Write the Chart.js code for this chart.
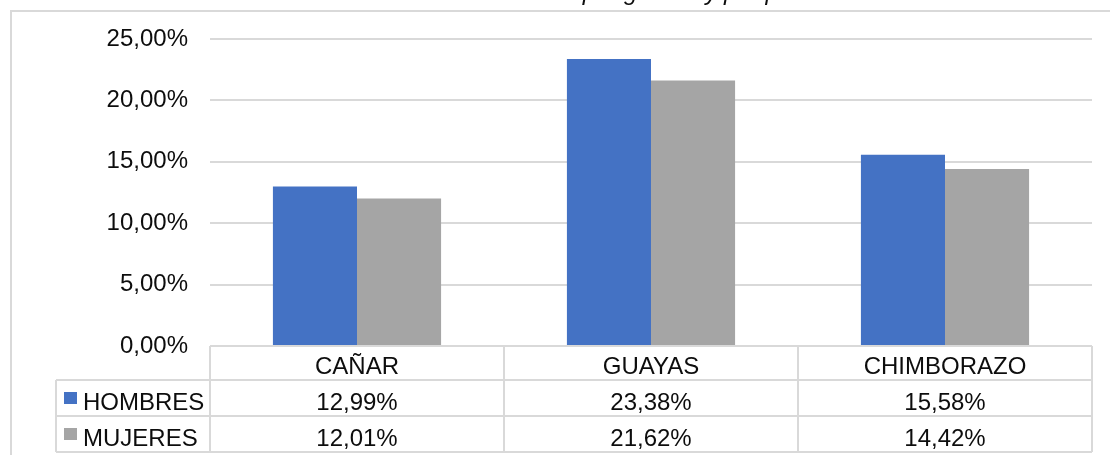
<!DOCTYPE html>
<html>
<head>
<meta charset="utf-8">
<script src="https://cdn.jsdelivr.net/npm/chart.js@4"></script>
<style>
  body { margin: 0; background: #fff; }
  #wrap { width: 1110px; height: 455px; position: relative; }
</style>
</head>
<body>
<div id="wrap"><canvas id="grafico"></canvas></div>
<script>
const titulo = 'Distribución de la muestra por género y por provincia';
const provincias = ['CAÑAR', 'GUAYAS', 'CHIMBORAZO'];
const series = ['HOMBRES', 'MUJERES'];
const hombres = [12.99, 23.38, 15.58];
const mujeres = [12.01, 21.62, 14.42];
const colores = ['#4472c4', '#a5a5a5'];
const yTicks = [0, 5, 10, 15, 20, 25];

const FUENTE = '24px "Liberation Sans", Arial, sans-serif';
const LINEA = '#d9d9d9';
const TEXTO = '#0d0d0d';

// formato con coma decimal
function pct(v) {
    return v.toFixed(2).replace('.', ',') + '%';
}

// marco exterior y título (solo asoma la parte inferior)
const marcoPlugin = {
    id: 'marco',
    beforeDraw(chart) {
        const ctx = chart.ctx;
        ctx.save();
        ctx.strokeStyle = LINEA;
        ctx.lineWidth = 2;
        ctx.beginPath();
        ctx.moveTo(11, chart.height + 5);
        ctx.lineTo(11, 11);
        ctx.lineTo(chart.width + 5, 11);
        ctx.stroke();

        ctx.fillStyle = TEXTO;
        ctx.font = 'italic 24px "Liberation Sans", Arial, sans-serif';
        ctx.textAlign = 'center';
        ctx.textBaseline = 'alphabetic';
        ctx.fillText(titulo, 580, 0);
        ctx.restore();
    }
};

// tabla de datos debajo del eje x
const tablaPlugin = {
    id: 'tablaDatos',
    afterDraw(chart) {
        const ctx = chart.ctx;
        const area = chart.chartArea;
        const x = chart.scales.x;
        const colW = (area.right - area.left) / provincias.length;
        const leyendaX = area.left - 154;
        const y0 = area.bottom;
        const y1 = y0 + 34;
        const y2 = y1 + 36;
        const y3 = y2 + 36;
        const filas = [hombres, mujeres];

        ctx.save();
        ctx.strokeStyle = LINEA;
        ctx.lineWidth = 2;
        ctx.beginPath();
        ctx.moveTo(area.left, y0); ctx.lineTo(area.right, y0);
        [y1, y2, y3].forEach(y => { ctx.moveTo(leyendaX, y); ctx.lineTo(area.right, y); });
        ctx.moveTo(leyendaX, y1); ctx.lineTo(leyendaX, y3);
        for (let i = 0; i <= provincias.length; i++) {
            const cx = area.left + i * colW;
            ctx.moveTo(cx, y0); ctx.lineTo(cx, y3);
        }
        ctx.stroke();

        ctx.fillStyle = TEXTO;
        ctx.font = FUENTE;
        ctx.textBaseline = 'alphabetic';
        ctx.textAlign = 'center';
        provincias.forEach((p, i) => {
            const cx = x.getPixelForValue(i);
            ctx.fillText(p, cx, y0 + 28);
            filas.forEach((vals, j) => {
                const top = j === 0 ? y1 : y2;
                ctx.fillText(pct(vals[i]), cx, top + 29.5);
            });
        });

        ctx.textAlign = 'left';
        series.forEach((s, j) => {
            const top = j === 0 ? y1 : y2;
            ctx.fillStyle = colores[j];
            ctx.fillRect(leyendaX + 8, top + 12, 13, 12);
            ctx.fillStyle = TEXTO;
            ctx.fillText(s, leyendaX + 27, top + 29.5);
        });
        ctx.restore();
    }
};

new Chart(document.getElementById('grafico'), {
    type: 'bar',
    data: {
        labels: provincias,
        datasets: [
            { label: series[0], data: hombres, backgroundColor: colores[0] },
            { label: series[1], data: mujeres, backgroundColor: colores[1] }
        ]
    },
    options: {
        responsive: true,
        maintainAspectRatio: false,
        animation: false,
        categoryPercentage: 0.572,
        barPercentage: 1.0,
        layout: { padding: { left: 0, top: 39, right: 18, bottom: 109 } },
        plugins: {
            legend: { display: false },
            tooltip: { enabled: false }
        },
        scales: {
            x: { display: false },
            y: {
                min: 0,
                max: 25,
                afterFit(scale) { scale.width = 210; },
                afterBuildTicks(scale) { scale.ticks = yTicks.map(v => ({ value: v })); },
                border: { display: false },
                grid: { color: LINEA, lineWidth: 2, drawTicks: false },
                ticks: {
                    padding: 22,
                    color: TEXTO,
                    font: { family: '"Liberation Sans", Arial, sans-serif', size: 24 },
                    callback: v => pct(v)
                }
            }
        }
    },
    plugins: [marcoPlugin, tablaPlugin]
});
</script>
</body>
</html>
